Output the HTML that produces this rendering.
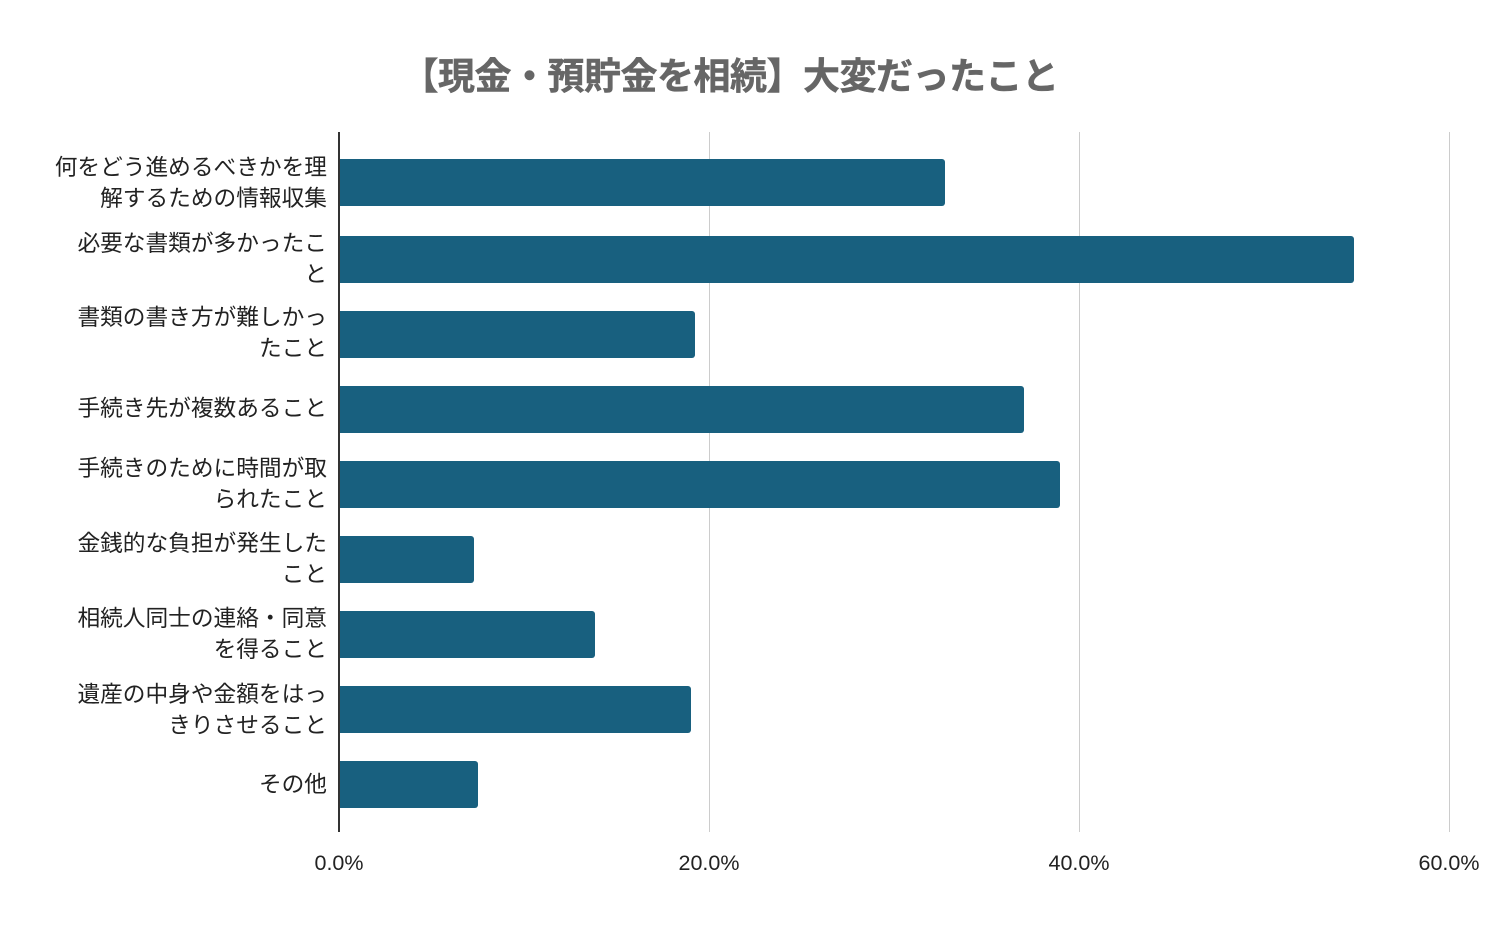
<!DOCTYPE html>
<html><head><meta charset="utf-8"><style>
body{margin:0;width:1496px;height:925px;background:#fff;position:relative;overflow:hidden;font-family:"Liberation Sans","Noto Sans CJK JP",sans-serif;}
.t{position:absolute;left:-18px;width:1496px;top:46px;text-align:center;font-size:37px;font-weight:bold;color:#666;-webkit-text-stroke:0.5px #666;letter-spacing:-0.5px;}
.g{position:absolute;top:132px;height:700px;width:1px;background:#ccc;}
.ax{position:absolute;left:338px;top:132px;height:700px;width:2px;background:#333;}
.b{position:absolute;left:339px;height:47px;background:#18607f;border-radius:0 3px 3px 0;}
.l{position:absolute;right:1169px;text-align:right;font-size:22.7px;line-height:31px;color:#222;white-space:nowrap;}
.x{position:absolute;top:851px;font-size:21.5px;color:#222;width:100px;text-align:center;}
</style></head><body>
<div class="t">【現金・預貯金を相続】大変だったこと</div>
<div class="g" style="left:709px"></div>
<div class="g" style="left:1079px"></div>
<div class="g" style="left:1449px"></div>
<div class="b" style="top:159px;width:606px"></div>
<div class="b" style="top:236px;width:1015px"></div>
<div class="b" style="top:311px;width:356px"></div>
<div class="b" style="top:386px;width:685px"></div>
<div class="b" style="top:461px;width:721px"></div>
<div class="b" style="top:536px;width:135px"></div>
<div class="b" style="top:611px;width:256px"></div>
<div class="b" style="top:686px;width:352px"></div>
<div class="b" style="top:761px;width:139px"></div>
<div class="ax"></div>
<div class="l" style="top:152px">何をどう進めるべきかを理<br>解するための情報収集</div>
<div class="l" style="top:228px">必要な書類が多かったこ<br>と</div>
<div class="l" style="top:302px">書類の書き方が難しかっ<br>たこと</div>
<div class="l" style="top:393px">手続き先が複数あること</div>
<div class="l" style="top:453px">手続きのために時間が取<br>られたこと</div>
<div class="l" style="top:528px">金銭的な負担が発生した<br>こと</div>
<div class="l" style="top:603px">相続人同士の連絡・同意<br>を得ること</div>
<div class="l" style="top:679px">遺産の中身や金額をはっ<br>きりさせること</div>
<div class="l" style="top:769px">その他</div>
<div class="x" style="left:289px">0.0%</div>
<div class="x" style="left:659px">20.0%</div>
<div class="x" style="left:1029px">40.0%</div>
<div class="x" style="left:1399px">60.0%</div>
</body></html>
